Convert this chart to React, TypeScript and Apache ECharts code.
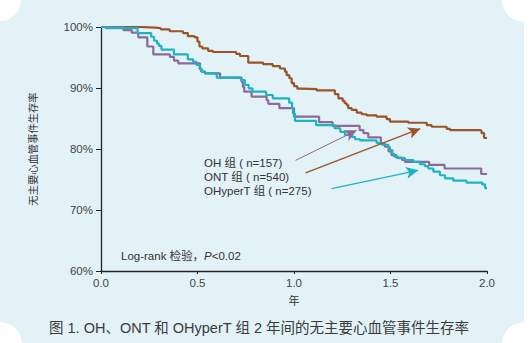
import React, { useEffect, useRef } from "react";
import * as echarts from "echarts";

// [time in years, survival % after the step]
const ontCurve: [number, number][] = [
  [0, 100], [0.2, 99.9], [0.285, 99.8], [0.31, 99.6], [0.356, 99.3], [0.425, 99.0],
  [0.45, 98.5], [0.485, 98.3], [0.5, 97.6], [0.51, 96.8], [0.525, 96.5], [0.555, 96.1],
  [0.58, 95.9], [0.7, 95.6], [0.72, 95.25], [0.763, 94.15], [0.84, 93.9], [0.89, 93.6],
  [0.927, 93.2], [0.953, 92.7], [0.962, 92.1], [0.976, 91.6], [0.988, 90.8], [1.0, 90.3],
  [1.017, 89.9], [1.04, 89.8], [1.118, 89.6], [1.212, 89.0], [1.23, 88.3], [1.252, 87.9],
  [1.262, 87.5], [1.273, 87.2], [1.281, 86.7], [1.299, 86.4], [1.325, 85.95], [1.351, 85.7],
  [1.377, 85.5], [1.428, 85.3], [1.48, 84.9], [1.497, 84.5], [1.592, 84.3], [1.688, 83.9],
  [1.713, 83.65], [1.791, 83.3], [1.808, 83.1], [1.964, 83.0], [1.972, 82.6], [1.985, 81.8],
  [2.0, 81.8],
];

const ohCurve: [number, number][] = [
  [0, 100], [0.116, 99.5], [0.159, 99.07], [0.193, 98.3], [0.24, 96.8], [0.271, 95.5],
  [0.357, 95.1], [0.378, 94.5], [0.4, 94.05], [0.513, 93.2], [0.52, 92.7], [0.539, 92.4],
  [0.617, 91.7], [0.729, 91.0], [0.735, 90.2], [0.742, 89.4], [0.78, 88.6], [0.858, 88.0],
  [0.867, 87.4], [0.924, 86.7], [1.0, 85.3], [1.13, 84.4], [1.2, 83.8], [1.34, 83.1],
  [1.36, 82.6], [1.385, 81.9], [1.45, 80.9], [1.47, 80.4], [1.49, 79.6], [1.505, 79.0],
  [1.53, 78.6], [1.56, 78.2], [1.575, 77.9], [1.7, 77.4], [1.78, 76.8], [1.97, 75.9],
  [2.0, 75.9],
];

const ohyperCurve: [number, number][] = [
  [0, 100], [0.025, 99.8], [0.19, 99.0], [0.26, 98.4], [0.275, 97.75], [0.29, 97.3],
  [0.3, 96.9], [0.313, 96.3], [0.378, 95.5], [0.45, 94.7], [0.477, 94.3], [0.494, 93.8],
  [0.511, 93.1], [0.52, 92.7], [0.537, 92.4], [0.6, 91.7], [0.725, 91.3], [0.745, 90.5],
  [0.765, 89.95], [0.785, 89.4], [0.855, 88.85], [0.89, 88.3], [0.975, 87.6], [0.99, 86.8],
  [0.995, 85.8], [1.005, 84.6], [1.115, 83.9], [1.21, 83.4], [1.24, 82.8], [1.264, 82.3],
  [1.3, 82.0], [1.316, 81.6], [1.342, 81.4], [1.428, 81.0], [1.454, 80.7], [1.489, 80.3],
  [1.497, 79.8], [1.51, 79.2], [1.52, 78.75], [1.54, 78.5], [1.575, 78.2], [1.618, 77.9],
  [1.652, 77.5], [1.678, 77.2], [1.696, 76.8], [1.722, 76.3], [1.756, 75.7], [1.782, 75.2],
  [1.825, 74.8], [1.894, 74.5], [1.975, 74.2], [1.99, 73.6], [2.0, 73.6],
];

// annotation arrows (data coordinates): [start, end]
const ohArrow: [number, number][] = [[1.008, 78.14], [1.325, 83.06]];
const ontArrow: [number, number][] = [[1.06, 76.07], [1.654, 83.33]];
const ohyperArrow: [number, number][] = [[1.195, 73.5], [1.643, 76.5]];

const legendTexts = ["OH 组 ( n=157)", "ONT 组 ( n=540)", "OHyperT 组 ( n=275)"];
const caption = "图 1. OH、ONT 和 OHyperT 组 2 年间的无主要心血管事件生存率";
const yAxisName = "无主要心血管事件生存率";
const xAxisName = "年";

const FONT = "'Liberation Sans', Arial, 'Noto Sans CJK SC', sans-serif";
const C_ONT = "#9A5427";
const C_OH = "#8C6A99";
const C_HYP = "#1DB3C3";

function arrowLine(a: [number, number][], color: string, width: number) {
  return {
    silent: true,
    symbol: ["none", "arrow"],
    symbolSize: [9, 12],
    label: { show: false },
    lineStyle: { color, width, type: "solid" },
    emphasis: { disabled: true },
    data: [[{ coord: a[0] }, { coord: a[1] }]],
  };
}

export default function App() {
  const ref = useRef<HTMLDivElement>(null);
  useEffect(() => {
    const chart = echarts.init(ref.current!, null, { renderer: "svg" });
    const mkSeries = (name: string, data: [number, number][], color: string, arrow: any) => ({
      name,
      type: "line",
      step: "end",
      data,
      showSymbol: false,
      symbol: "none",
      lineStyle: { color, width: 2.2 },
      itemStyle: { color },
      markLine: arrow,
    });
    chart.setOption({
      animation: false,
      backgroundColor: "transparent",
      textStyle: { fontFamily: FONT },
      grid: { left: 101, top: 27, width: 386, height: 244, containLabel: false },
      xAxis: {
        type: "value",
        min: 0,
        max: 2,
        interval: 0.5,
        name: xAxisName,
        nameLocation: "middle",
        nameGap: 24,
        nameTextStyle: { fontSize: 11, color: "#333", fontFamily: FONT },
        axisLine: { show: true, lineStyle: { color: "#222", width: 1.3 } },
        axisTick: { show: true, length: 3, lineStyle: { color: "#222" } },
        axisLabel: {
          fontSize: 11.5,
          color: "#444",
          margin: 6,
          formatter: (v: number) => v.toFixed(1),
        },
        splitLine: { show: false },
      },
      yAxis: {
        type: "value",
        min: 60,
        max: 100,
        interval: 10,
        name: yAxisName,
        nameLocation: "middle",
        nameGap: 62,
        nameRotate: 90,
        nameTextStyle: { fontSize: 10.3, color: "#333", fontFamily: FONT },
        axisLine: { show: true, lineStyle: { color: "#222", width: 1.3 } },
        axisTick: { show: true, length: 5, lineStyle: { color: "#222" } },
        axisLabel: { fontSize: 11.5, color: "#444", margin: 8, formatter: "{value}%" },
        splitLine: { show: false },
      },
      series: [
        mkSeries("ONT", ontCurve, C_ONT, arrowLine(ontArrow, C_ONT, 1.3)),
        mkSeries("OH", ohCurve, C_OH, arrowLine(ohArrow, C_OH, 1)),
        mkSeries("OHyperT", ohyperCurve, C_HYP, arrowLine(ohyperArrow, C_HYP, 1.1)),
      ],
      graphic: [
        ...legendTexts.map((t, i) => ({
          type: "text",
          x: 204,
          y: 162.5 + i * 14.2,
          style: {
            text: t,
            fontSize: 11.5,
            fontFamily: FONT,
            fill: "#333",
            align: "left",
            verticalAlign: "middle",
          },
        })),
        {
          type: "text",
          x: 121,
          y: 256,
          style: {
            text: "Log-rank 检验，{i|P}<0.02",
            fontSize: 11.5,
            fontFamily: FONT,
            fill: "#333",
            align: "left",
            verticalAlign: "middle",
            rich: { i: { fontStyle: "italic", fontSize: 11.5, fontFamily: FONT, fill: "#333" } },
          },
        },
        {
          type: "text",
          x: 259,
          y: 328,
          style: {
            text: caption,
            fontSize: 14.5,
            fontFamily: FONT,
            fill: "#3a3a3a",
            align: "center",
            verticalAlign: "middle",
          },
        },
      ],
    });
    return () => chart.dispose();
  }, []);
  return (
    <div style={{ position: "fixed", left: 0, top: 0, width: 529, height: 343, background: "#fff" }}>
      <svg width={529} height={343} style={{ position: "absolute", left: 0, top: 0 }}>
        <rect x={0} y={0} width={524} height={343} fill="#E2F2F7" />
        <circle cx={0} cy={0} r={21} fill="#fff" />
        <circle cx={524} cy={0} r={22} fill="#fff" />
        <circle cx={0} cy={344} r={22} fill="#fff" />
        <circle cx={524} cy={344} r={22} fill="#fff" />
      </svg>
      <div ref={ref} style={{ position: "absolute", left: 0, top: 0, width: 529, height: 343 }} />
    </div>
  );
}
